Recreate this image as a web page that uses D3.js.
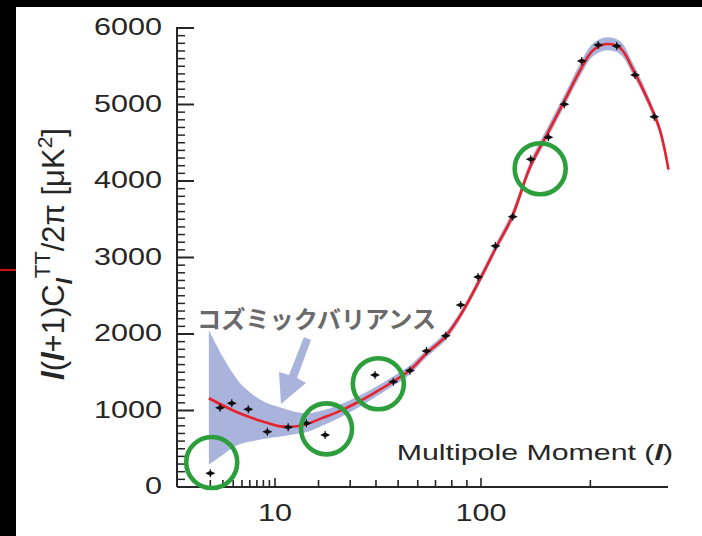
<!DOCTYPE html>
<html>
<head>
<meta charset="utf-8">
<script src="https://cdn.jsdelivr.net/npm/d3@7/dist/d3.min.js"></script>
<style>
  html, body { margin: 0; padding: 0; background: #000; }
  svg { display: block; }
</style>
</head>
<body>
<svg id="chart" width="702" height="536"></svg>
<script>
// Measured band powers: multipole l and l(l+1)C_l/2π in μK²
const dataL = [2, 2.75, 3.85, 5.8, 8.65, 12.6, 16.8, 21.9, 39.6, 47.7, 55.9, 64.8, 76.2, 85.8, 97.9, 110.9, 124.8, 140.4, 156.7, 172.4, 190.6, 208.9, 230.5, 253.2, 278.5];
const dataD = [179, 1037, 1094, 1016, 723, 780, 833, 680, 1464, 1376, 1523, 1778, 1978, 2379, 2745, 3150, 3533, 4284, 4571, 5003, 5569, 5778, 5765, 5386, 4841];

// Best-fit model spectrum
const modelL = [1.9, 3, 4, 5, 7, 9, 11, 14, 17, 21, 26, 32, 39, 48, 56, 65, 76, 87, 100, 112, 124, 140, 155, 173, 189, 203, 219, 235, 251, 268, 286, 298];
const modelD = [1160, 1065, 1000, 950, 880, 830, 792, 790, 824, 900, 985, 1095, 1225, 1386, 1530, 1750, 1967, 2290, 2740, 3150, 3520, 4190, 4600, 5060, 5450, 5710, 5790, 5735, 5450, 5100, 4670, 4150];

// Cosmic variance envelope around the model
const bandHi = [2050, 1700, 1480, 1330, 1170, 1085, 1040, 985, 965, 1000, 1070, 1170, 1290, 1450, 1590, 1800, 2020, 2340, 2800, 3210, 3590, 4260, 4680, 5140, 5540, 5800, 5880, 5825, 5530, 5170, 4730, 4200];
const bandLo = [290, 420, 520, 570, 610, 640, 660, 690, 720, 800, 900, 1020, 1160, 1330, 1475, 1700, 1915, 2240, 2690, 3100, 3460, 4130, 4530, 4990, 5370, 5630, 5710, 5655, 5380, 5040, 4610, 4100];

// Y axis ticks and x axis ticks
const yMajor = [0, 1000, 2000, 3000, 4000, 5000, 6000];
const xTicks = [2, 3, 4, 5, 6, 7, 8, 9, 10, 20, 30, 40, 50, 60, 70, 80, 90, 100, 200];
const xLabels = [10, 100];

// Highlighted band powers (annotation rings), in data units
const ringL = [2.1, 22.3, 41, 149];
const ringD = [320, 760, 1350, 4160];

const yTitleParts = [
  {t: "l", italic: true}, {t: "(", italic: false}, {t: "l", italic: true}, {t: "+1)C", italic: false},
  {t: "l", italic: true, sub: true}, {t: "TT", italic: false, sup: true}, {t: "/2π [μK", italic: false},
  {t: "2", italic: false, sup2: true}, {t: "]", italic: false}
];

const svg = d3.select("#chart");
const W = 702, H = 536;
const plotLeft = 177, plotRight = 668, plotBottom = 487, plotTop = 28;
const stretch = 1.33;
const ink = "#262626";
const font = "'Liberation Sans', Arial, Helvetica, sans-serif";

svg.append("rect").attr("width", W).attr("height", H).attr("fill", "#000");
svg.append("rect").attr("x", 16).attr("y", 7).attr("width", W - 16).attr("height", H - 7).attr("fill", "#fff");
svg.append("line").attr("x1", 0).attr("x2", 16).attr("y1", 270).attr("y2", 270)
  .attr("stroke", "#d01010").attr("stroke-width", 2);

const x = d3.scalePow().exponent(0.4).domain([10, 100]).range([275, 481]);
const y = d3.scaleLinear().domain([0, 6000]).range([plotBottom, plotTop]);

// Cosmic variance band
const band = d3.area()
  .x((d, i) => x(modelL[i]))
  .y0((d, i) => y(bandLo[i]))
  .y1((d, i) => y(bandHi[i]))
  .curve(d3.curveCatmullRom);
svg.append("path").datum(modelL).attr("d", band).attr("fill", "#aab3dc");

// Arrow pointing at the band
const arrow = d3.path();
arrow.moveTo(304, 337); arrow.lineTo(311, 340); arrow.lineTo(297, 378);
arrow.lineTo(306, 383); arrow.lineTo(281, 404); arrow.lineTo(279, 372);
arrow.lineTo(289, 375); arrow.closePath();
svg.append("path").attr("d", arrow.toString()).attr("fill", "#aab3dc");

// Model curve
const line = d3.line().x((d, i) => x(modelL[i])).y((d, i) => y(modelD[i])).curve(d3.curveCatmullRom);
svg.append("path").datum(modelL).attr("d", line).attr("fill", "none")
  .attr("stroke", "#e5232b").attr("stroke-width", 2.6);

// Data points
const pts = svg.append("g");
dataL.forEach((l, i) => {
  const px = x(l), py = y(dataD[i]);
  pts.append("path")
    .attr("d", `M${px - 5},${py}L${px},${py - 2.5}L${px + 5},${py}L${px},${py + 2.5}Z`)
    .attr("fill", "#111");
  pts.append("line").attr("x1", px).attr("x2", px).attr("y1", py - 4).attr("y2", py + 4)
    .attr("stroke", "#111").attr("stroke-width", 1.2);
});

// Axes
const axes = svg.append("g").attr("stroke", ink).attr("fill", "none");
axes.append("line").attr("x1", plotLeft).attr("x2", plotLeft).attr("y1", plotTop - 1).attr("y2", plotBottom)
  .attr("stroke-width", 2);
axes.append("line").attr("x1", plotLeft).attr("x2", plotRight).attr("y1", plotBottom).attr("y2", plotBottom)
  .attr("stroke-width", 2);
d3.range(0, 6001, 100).forEach(v => {
  const major = v % 1000 === 0;
  axes.append("line").attr("x1", plotLeft).attr("x2", plotLeft + (major ? 17 : 8))
    .attr("y1", y(v)).attr("y2", y(v)).attr("stroke-width", major ? 2 : 1.5);
});
xTicks.forEach(v => {
  const major = v === 10 || v === 100;
  axes.append("line").attr("x1", x(v)).attr("x2", x(v))
    .attr("y1", plotBottom).attr("y2", plotBottom - (major ? 9 : 7)).attr("stroke-width", 1.6);
});

// Tick labels
yMajor.forEach(v => {
  svg.append("text")
    .attr("transform", `translate(162,${y(v) + 7}) scale(${stretch},1)`)
    .attr("text-anchor", "end").attr("font-family", font).attr("font-size", 23)
    .attr("fill", ink).text(v);
});
xLabels.forEach(v => {
  svg.append("text")
    .attr("transform", `translate(${x(v)},${plotBottom + 34}) scale(${stretch},1)`)
    .attr("text-anchor", "middle").attr("font-family", font).attr("font-size", 23)
    .attr("fill", ink).text(v);
});

// Axis titles
const xt = svg.append("text")
  .attr("transform", `translate(673,460) scale(${stretch},1)`)
  .attr("text-anchor", "end").attr("font-family", font).attr("font-size", 22.8).attr("fill", ink);
xt.append("tspan").text("Multipole Moment (");
xt.append("tspan").attr("font-style", "italic").attr("font-weight", "bold").text("l");
xt.append("tspan").text(")");

const yt = svg.append("text")
  .attr("transform", `translate(64,254) rotate(-90)`)
  .attr("text-anchor", "middle").attr("font-family", font).attr("font-size", 31).attr("fill", ink);
yTitleParts.forEach(p => {
  const ts = yt.append("tspan").text(p.t);
  if (p.italic) ts.attr("font-style", "italic").attr("font-weight", "bold");
  if (p.sub) ts.attr("font-size", 22).attr("dy", 8);
  if (p.sup) ts.attr("font-size", 22).attr("dy", -22);
  if (p.t.startsWith("/")) ts.attr("dy", 14);
  if (p.sup2) ts.attr("font-size", 21).attr("dy", -12);
  if (p.t === "]") ts.attr("dy", 12);
});

// Annotation label
svg.append("text").attr("x", 197).attr("y", 328)
  .attr("font-family", "'Noto Sans CJK JP', sans-serif").attr("font-weight", 700)
  .attr("font-size", 24.2).attr("fill", "#6a6a6a").text("コズミックバリアンス");

// Highlight rings
ringL.forEach((l, i) => {
  svg.append("circle").attr("cx", x(l)).attr("cy", y(ringD[i])).attr("r", 25.5)
    .attr("fill", "none").attr("stroke", "#2c9e3c").attr("stroke-width", 4.6);
});
</script>
</body>
</html>
